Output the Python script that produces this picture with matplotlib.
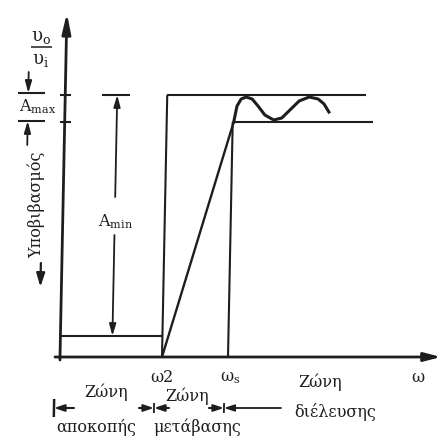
import numpy as np
import matplotlib
matplotlib.use("Agg")
import matplotlib.pyplot as plt
import matplotlib.transforms as mtransforms

plt.rcParams['font.family'] = ['DejaVu Serif']
plt.rcParams['mathtext.fontset'] = 'dejavuserif'

# frequency points (diagram units)
w2 = 102          # end of stop band
ws = 168          # start of pass band
w_pass_top_end = 301
w_pass_low_end = 308
# gain levels
g_top = 262       # passband top
g_low = 235       # passband bottom (Amax below top)
g_stop = 21       # stopband level
amin_x = 52

# ripple of the response in the pass band
ripple_w = [169, 172, 176, 181, 187, 193, 200, 209, 217, 225, 234, 244, 253, 259, 264]
ripple_g = [235, 251, 258, 260, 258, 251, 242, 237, 239, 247, 256, 260, 258, 253, 245]

# zone boundary markers under the axis
marks = [95, 165]

ink = '#1e1e1e'
fs = 11.5

fig = plt.figure(figsize=(4.42, 4.40), dpi=100)
ax = fig.add_axes([0, 0, 1, 1])
ax.set_xlim(-60, 382)
ax.set_ylim(-83, 357)
ax.axis('off')

# the scan is slightly slanted
tr = mtransforms.Affine2D().skew(np.arctan(0.02), 0) + ax.transData

def line(xs, ys, lw=1.5):
    ax.plot(xs, ys, color=ink, lw=lw, transform=tr, solid_capstyle='butt')

def arrow(x0, y0, x1, y1, lw=1.3, hw=2, hl=7):
    ax.annotate('', xy=(x1, y1), xytext=(x0, y0), xycoords=tr, textcoords=tr,
                arrowprops=dict(arrowstyle='-|>,head_width=%g,head_length=%g' % (hw / 10, hl / 10),
                                color=ink, lw=lw, shrinkA=0, shrinkB=0,
                                mutation_scale=10))

# axes
arrow(-5, 0, 381, 0, lw=2.0, hw=2.6, hl=10)
arrow(0, -3, 0, 344, lw=2.0, hw=2.6, hl=12)

# y ticks
for g in (g_top, g_low):
    line([-5, 6], [g, g], lw=1.5)

# stop band
line([0, w2], [g_stop, g_stop])
# transition / pass band limits
line([w2, w2], [0, g_top])
line([w2, w_pass_top_end], [g_top, g_top])
line([ws, ws], [0, g_low])
line([ws, w_pass_low_end], [g_low, g_low])
# response
line([w2, ripple_w[0]], [0, ripple_g[0]], lw=1.7)
ax.plot(ripple_w, ripple_g, color=ink, lw=2.2, transform=tr, solid_joinstyle='round')

# Amin arrow
line([amin_x - 15, amin_x + 13], [g_top, g_top])
arrow(amin_x, 160, amin_x, g_top)
arrow(amin_x, 122, amin_x, g_stop)
ax.text(amin_x + 1, 135, 'A$_{\\rm min}$', ha='center', va='center', fontsize=fs,
        color=ink, transform=tr)

# Amax marks on the left
line([-47, -20], [g_top + 2, g_top + 2])
line([-47, -20], [g_low + 1, g_low + 1])
arrow(-37, 285, -37, g_top + 2)
arrow(-37, 212, -37, g_low + 1)
ax.text(-27, 250, 'A$_{\\rm max}$', ha='center', va='center', fontsize=fs,
        color=ink, transform=tr)

# vo / vi
ax.text(-25, 320, 'υ$_{\\rm o}$', ha='center', va='center', fontsize=13, color=ink, transform=tr)
line([-35, -14], [310, 310], lw=1.1)
ax.text(-25, 297, 'υ$_{\\rm i}$', ha='center', va='center', fontsize=13, color=ink, transform=tr)

# attenuation label
ax.text(-27, 152, 'Υποβιβασμός', rotation=90, ha='center', va='center', fontsize=fs,
        color=ink, transform=tr)
arrow(-21, 94, -21, 70, lw=1.6, hw=2.5, hl=8)

# frequency labels
ax.text(w2, -20, 'ω2', ha='center', va='center', fontsize=fs, color=ink)
ax.text(ws + 2, -20, 'ω$_{\\rm s}$', ha='center', va='center', fontsize=fs, color=ink)
ax.text(358, -20, 'ω', ha='center', va='center', fontsize=fs, color=ink)

# zone labels
ax.text(46, -35, 'Ζώνη', ha='center', va='center', fontsize=fs, color=ink)
ax.text(127, -39, 'Ζώνη', ha='center', va='center', fontsize=fs, color=ink)
ax.text(260, -25, 'Ζώνη', ha='center', va='center', fontsize=fs, color=ink)
ax.text(36, -70, 'αποκοπής', ha='center', va='center', fontsize=fs, color=ink)
ax.text(137, -70, 'μετάβασης', ha='center', va='center', fontsize=fs, color=ink)
ax.text(275, -55, 'διέλευσης', ha='center', va='center', fontsize=fs, color=ink)

# zone boundary markers
ym = -51
line([-5, -5], [ym - 9, ym + 9], lw=1.8)
arrow(15, ym, -5, ym, lw=1.5, hw=2, hl=6)
for m in marks:
    line([m, m], [ym - 5, ym + 5], lw=1.3)
    arrow(m - 15, ym, m, ym, lw=1.5, hw=2, hl=6)
arrow(marks[0] + 15, ym, marks[0], ym, lw=1.5, hw=2, hl=6)
arrow(222, ym, marks[1], ym, lw=1.3, hw=2, hl=6)

fig.savefig('out.png', dpi=100)
